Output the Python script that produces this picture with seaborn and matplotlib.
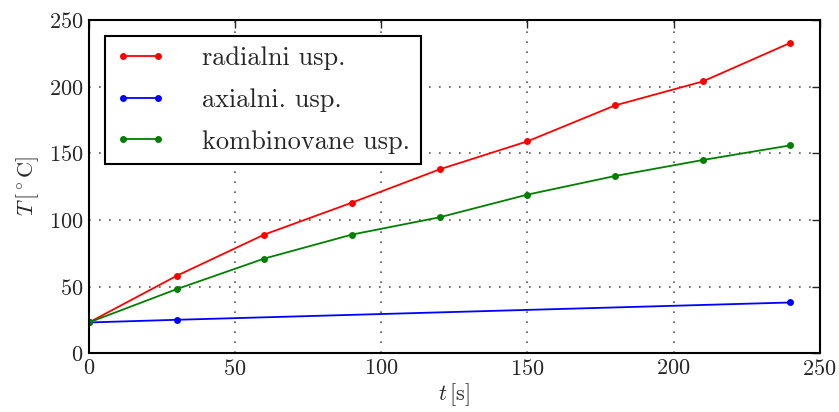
import pandas as pd
import matplotlib
matplotlib.use("Agg")
import matplotlib.pyplot as plt
import seaborn as sns

# data
t_rad = [0, 30, 60, 90, 120, 150, 180, 210, 240]
T_rad = [23, 58, 89, 113, 138, 159, 186, 204, 233]
t_ax = [0, 30, 240]
T_ax = [23, 25, 38]
t_komb = [0, 30, 60, 90, 120, 150, 180, 210, 240]
T_komb = [23, 48, 71, 89, 102, 119, 133, 145, 156]

labels = ["radialni usp.", "axialni. usp.", "kombinovane usp."]
colors = ["red", "blue", "green"]

sns.set_style("white")
plt.rcParams["font.family"] = ["cmr10", "DejaVu Serif"]
plt.rcParams["mathtext.fontset"] = "cm"
plt.rcParams["axes.formatter.use_mathtext"] = True
plt.rcParams["axes.unicode_minus"] = False

df = pd.concat([
    pd.DataFrame({"t": t_rad, "T": T_rad, "serie": labels[0]}),
    pd.DataFrame({"t": t_ax, "T": T_ax, "serie": labels[1]}),
    pd.DataFrame({"t": t_komb, "T": T_komb, "serie": labels[2]}),
])

fig = plt.figure(figsize=(8.39, 4.12), dpi=100)
ax = fig.add_axes([0.106, 0.143, 0.871, 0.808])

sns.lineplot(data=df, x="t", y="T", hue="serie", palette=colors,
             marker="o", markersize=5, markeredgewidth=0, linewidth=1.3,
             ax=ax, sort=False)

ax.set_xlim(0, 250)
ax.set_ylim(0, 250)
ax.set_xticks(range(0, 251, 50))
ax.set_yticks(range(0, 251, 50))
ax.grid(True, color="0.35", linestyle=(0, (1, 5)), linewidth=1.2)
ax.tick_params(direction="in", length=6, width=1, top=True, right=True,
               labelsize=16, pad=4)
for s in ax.spines.values():
    s.set_color("black")
    s.set_linewidth(1.5)

ax.set_xlabel(r"$t\,[\mathrm{s}]$", fontsize=16, labelpad=2)
ax.set_ylabel(r"$T\,[^\circ\mathrm{C}]$", fontsize=16, labelpad=6)

leg = ax.legend(loc="upper left", fontsize=19, frameon=True, fancybox=False,
                edgecolor="black", framealpha=1, borderpad=0.4, numpoints=2,
                handlelength=1.9, handletextpad=1.4, labelspacing=0.68,
                borderaxespad=0.6)
leg.get_frame().set_linewidth(1.5)

fig.savefig("out.png", dpi=100)
